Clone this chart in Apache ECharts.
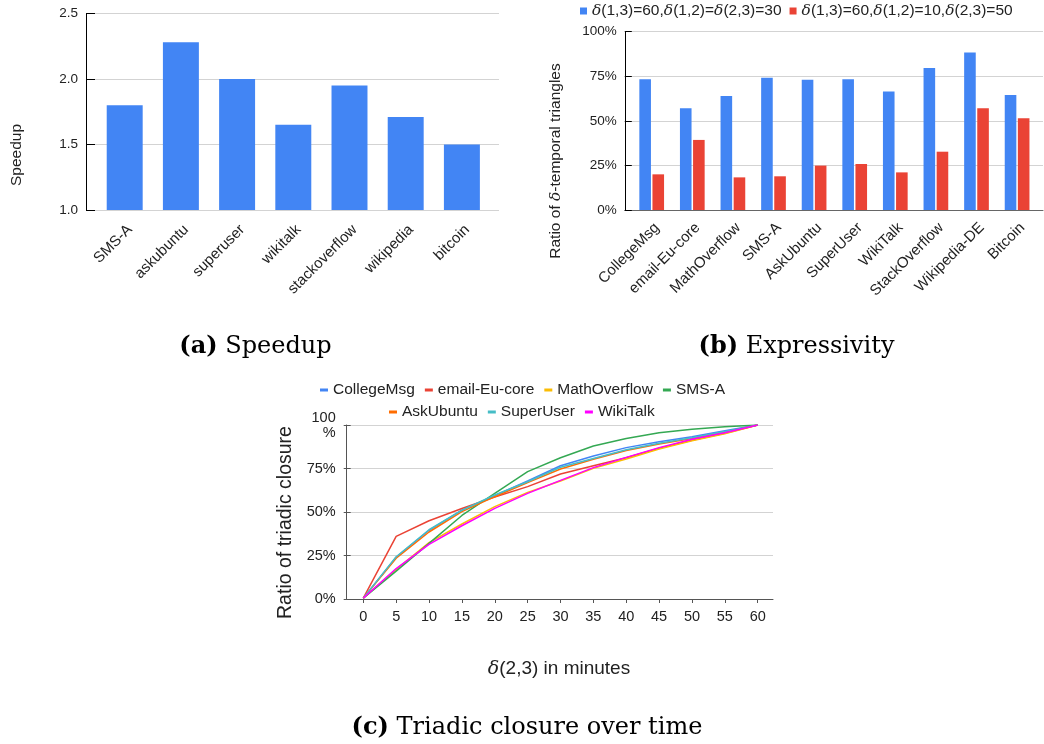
<!DOCTYPE html>
<html><head><meta charset="utf-8">
<script src="https://cdn.jsdelivr.net/npm/echarts@6/dist/echarts.min.js"></script>
<style>html,body{margin:0;padding:0;background:#fff}#c{width:1044px;height:744px}</style>
</head><body><div id="c"></div>
<script>
// ---------- data ----------
const speedupCats = ['SMS-A','askubuntu','superuser','wikitalk','stackoverflow','wikipedia','bitcoin'];
const speedupVals = [1.8, 2.28, 2.0, 1.65, 1.95, 1.71, 1.5];

const exprCats = ['CollegeMsg','email-Eu-core','MathOverflow','SMS-A','AskUbuntu','SuperUser','WikiTalk','StackOverflow','Wikipedia-DE','Bitcoin'];
const exprNames = ['δ(1,3)=60,δ(1,2)=δ(2,3)=30', 'δ(1,3)=60,δ(1,2)=10,δ(2,3)=50'];
const exprBlue = [73.3, 57.0, 63.9, 74.2, 73.1, 73.3, 66.5, 79.6, 88.4, 64.5];
const exprRed  = [20.0, 39.3, 18.3, 18.9, 24.9, 25.8, 21.1, 32.7, 57.0, 51.4];

const minutes = [0, 5, 10, 15, 20, 25, 30, 35, 40, 45, 50, 55, 60];
const closureNames = ['CollegeMsg','email-Eu-core','MathOverflow','SMS-A','AskUbuntu','SuperUser','WikiTalk'];
const collegeMsg = [0.5, 24.0, 39.5, 51.1, 59.4, 67.8, 76.6, 82.2, 87.0, 90.4, 93.3, 96.7, 100];
const emailEu    = [0.5, 36.0, 45.0, 52.0, 58.6, 64.6, 71.8, 76.6, 81.2, 86.6, 91.2, 95.2, 100];
const mathOver   = [0.5, 17.0, 32.4, 43.1, 53.1, 61.3, 67.8, 75.1, 80.5, 86.2, 91.0, 95.0, 100];
const smsA       = [0.5, 16.0, 32.0, 48.0, 60.7, 73.2, 81.2, 87.9, 92.3, 95.6, 97.5, 99.0, 100];
const askUbuntu  = [0.5, 23.4, 38.5, 50.2, 58.8, 66.9, 74.7, 80.3, 85.4, 89.1, 92.3, 95.8, 100];
const superUser  = [0.5, 24.3, 39.8, 51.0, 59.8, 67.4, 75.7, 80.8, 85.8, 89.5, 92.7, 96.2, 100];
const wikiTalk   = [0.5, 17.5, 31.4, 42.1, 52.1, 60.7, 68.2, 75.5, 81.4, 87.0, 91.8, 95.6, 100];
const closureSeries = [collegeMsg, emailEu, mathOver, smsA, askUbuntu, superUser, wikiTalk];
const closureColors = ['#4285F4','#EA4335','#FBBC04','#34A853','#FF6D01','#46BDC6','#FF00FF'];

// ---------- styles ----------
const SANS = 'Liberation Sans, Arial, sans-serif';
const SERIF = 'DejaVu Serif, serif';
const TXT = '#222';
const GRIDC = '#d3d3d3';
const BLUE = '#4285F4', RED = '#EA4335';

const chart = echarts.init(document.getElementById('c'), null, {renderer: 'canvas'});

const hiddenX = (gi) => ({gridIndex: gi, type: 'value', min: 0, max: 1, show: false});

const option = {
  animation: false,
  backgroundColor: '#fff',
  grid: [
    // (a) bars, (a) frame
    {left: 96.6, top: 13.5, width: 393.4, height: 196.5},
    {left: 86, top: 13.5, width: 413, height: 196.5},
    // (b) bars, (b) frame
    {left: 631.4, top: 31.7, width: 406, height: 178.3},
    {left: 624.8, top: 31.7, width: 418.2, height: 178.3},
    // (c) lines, (c) frame
    {left: 363.3, top: 425, width: 394.4, height: 174},
    {left: 346.7, top: 425, width: 426.3, height: 174}
  ],
  xAxis: [
    {gridIndex: 0, type: 'category', data: speedupCats,
      axisLine: {show: false}, axisTick: {show: false},
      axisLabel: {interval: 0, rotate: 45, margin: 12, verticalAlign: 'top', fontSize: 15, fontFamily: SANS, color: TXT}},
    hiddenX(1),
    {gridIndex: 2, type: 'category', data: exprCats,
      axisLine: {show: false}, axisTick: {show: false},
      axisLabel: {interval: 0, rotate: 45, margin: 10, verticalAlign: 'top', fontSize: 15, fontFamily: SANS, color: TXT}},
    {gridIndex: 3, type: 'value', min: 0, max: 1, axisLine: {show: true, lineStyle: {color: '#666', width: 1}},
      axisTick: {show: false}, axisLabel: {show: false}, splitLine: {show: false}},
    {gridIndex: 4, type: 'value', min: 0, max: 60, interval: 5,
      axisLine: {show: false},
      axisTick: {show: true, length: 4, lineStyle: {color: '#555'}},
      axisLabel: {margin: 10, fontSize: 14.5, fontFamily: SANS, color: TXT},
      splitLine: {show: false}},
    {gridIndex: 5, type: 'value', min: 0, max: 1, axisLine: {show: true, lineStyle: {color: '#555', width: 1}},
      axisTick: {show: false}, axisLabel: {show: false}, splitLine: {show: false}}
  ],
  yAxis: [
    {gridIndex: 0, type: 'value', min: 1, max: 2.5, interval: 0.5, show: false},
    {gridIndex: 1, type: 'value', min: 1, max: 2.5, interval: 0.5,
      axisLine: {show: true, lineStyle: {color: '#000', width: 1}},
      axisTick: {show: true, inside: true, length: 9, lineStyle: {color: '#000'}},
      axisLabel: {margin: 8, fontSize: 13.5, fontFamily: SANS, color: TXT, formatter: v => v.toFixed(1)},
      splitLine: {show: true, lineStyle: {color: GRIDC, width: 1}}},
    {gridIndex: 2, type: 'value', min: 0, max: 100, interval: 25, show: false},
    {gridIndex: 3, type: 'value', min: 0, max: 100, interval: 25,
      axisLine: {show: true, lineStyle: {color: '#000', width: 1}},
      axisTick: {show: true, inside: true, length: 7, lineStyle: {color: '#000'}},
      axisLabel: {margin: 8, fontSize: 13.5, fontFamily: SANS, color: TXT, formatter: '{value}%'},
      splitLine: {show: true, lineStyle: {color: GRIDC, width: 1}}},
    {gridIndex: 4, type: 'value', min: 0, max: 100, interval: 25, show: false},
    {gridIndex: 5, type: 'value', position: 'left', min: 0, max: 100, interval: 25,
      axisLine: {show: true, lineStyle: {color: '#555', width: 1}},
      axisTick: {show: true, length: 3, lineStyle: {color: '#555'}},
      axisLabel: {margin: 11, fontSize: 14.5, lineHeight: 15, fontFamily: SANS, color: TXT,
        formatter: v => v === 100 ? '100\n%' : v + '%'},
      splitLine: {show: true, lineStyle: {color: GRIDC, width: 1}}},
    {gridIndex: 5, type: 'value', position: 'left', offset: 0, min: 0, max: 100, interval: 25,
      axisLine: {show: false}, axisLabel: {show: false}, splitLine: {show: false},
      axisTick: {show: true, inside: true, length: 4, lineStyle: {color: '#555'}}}
  ],
  legend: [
    {data: exprNames, left: 575, top: -2, icon: 'rect', itemWidth: 7, itemHeight: 7, itemGap: 8,
      textStyle: {fontSize: 15.5, fontFamily: SANS, color: TXT,
        rich: {d: {fontSize: 15.5, fontFamily: SERIF, fontStyle: 'italic', color: TXT}}},
      formatter: n => n.replace(/δ/g, '{d|δ}')},
    {data: closureNames.slice(0, 4), left: 315, top: 377, icon: 'rect', itemWidth: 8, itemHeight: 3, itemGap: 10,
      textStyle: {fontSize: 15.5, fontFamily: SANS, color: TXT}},
    {data: closureNames.slice(4), left: 384, top: 399, icon: 'rect', itemWidth: 8, itemHeight: 3, itemGap: 10,
      textStyle: {fontSize: 15.5, fontFamily: SANS, color: TXT}}
  ],
  series: [
    {type: 'bar', xAxisIndex: 0, yAxisIndex: 0, data: speedupVals, barWidth: '64%',
      itemStyle: {color: BLUE}},
    {name: exprNames[0], type: 'bar', xAxisIndex: 2, yAxisIndex: 2, data: exprBlue,
      barWidth: 11.6, barGap: '13%', itemStyle: {color: BLUE}},
    {name: exprNames[1], type: 'bar', xAxisIndex: 2, yAxisIndex: 2, data: exprRed,
      barWidth: 11.6, barGap: '13%', itemStyle: {color: RED}}
  ].concat(closureNames.map((n, i) => ({
    name: n, type: 'line', xAxisIndex: 4, yAxisIndex: 4,
    data: minutes.map((m, j) => [m, closureSeries[i][j]]),
    showSymbol: false, symbol: 'none', color: closureColors[i],
    lineStyle: {width: 1.5, color: closureColors[i]}
  }))),
  graphic: [
    {type: 'text', x: 16.5, y: 155, rotation: Math.PI / 2,
      style: {text: 'Speedup', fontSize: 15.5, fontFamily: SANS, fill: TXT, align: 'center', verticalAlign: 'middle'}},
    {type: 'text', x: 556, y: 161, rotation: Math.PI / 2,
      style: {text: 'Ratio of {d|δ}-temporal triangles', fontSize: 15.5, fontFamily: SANS, fill: TXT,
        align: 'center', verticalAlign: 'middle',
        rich: {d: {fontSize: 15.5, fontFamily: SERIF, fontStyle: 'italic', fill: TXT}}}},
    {type: 'text', x: 285.5, y: 522.5, rotation: Math.PI / 2,
      style: {text: 'Ratio of triadic closure', fontSize: 19.5, fontFamily: SANS, fill: TXT, align: 'center', verticalAlign: 'middle'}},
    {type: 'text', x: 559, y: 669,
      style: {text: '{d|δ}(2,3) in minutes', fontSize: 19, fontFamily: SANS, fill: TXT, align: 'center', verticalAlign: 'middle',
        rich: {d: {fontSize: 19, fontFamily: SERIF, fontStyle: 'italic', fill: TXT}}}},
    {type: 'text', x: 255.5, y: 347,
      style: {text: '{b|(a)} Speedup', fontSize: 24, fontFamily: SERIF, fill: '#000', align: 'center', verticalAlign: 'middle',
        rich: {b: {fontSize: 24, fontFamily: SERIF, fontWeight: 'bold', fill: '#000'}}}},
    {type: 'text', x: 796.5, y: 347,
      style: {text: '{b|(b)} Expressivity', fontSize: 24, fontFamily: SERIF, fill: '#000', align: 'center', verticalAlign: 'middle',
        rich: {b: {fontSize: 24, fontFamily: SERIF, fontWeight: 'bold', fill: '#000'}}}},
    {type: 'text', x: 527, y: 728,
      style: {text: '{b|(c)} Triadic closure over time', fontSize: 24, fontFamily: SERIF, fill: '#000', align: 'center', verticalAlign: 'middle',
        rich: {b: {fontSize: 24, fontFamily: SERIF, fontWeight: 'bold', fill: '#000'}}}}
  ]
};
chart.setOption(option);
</script></body></html>
